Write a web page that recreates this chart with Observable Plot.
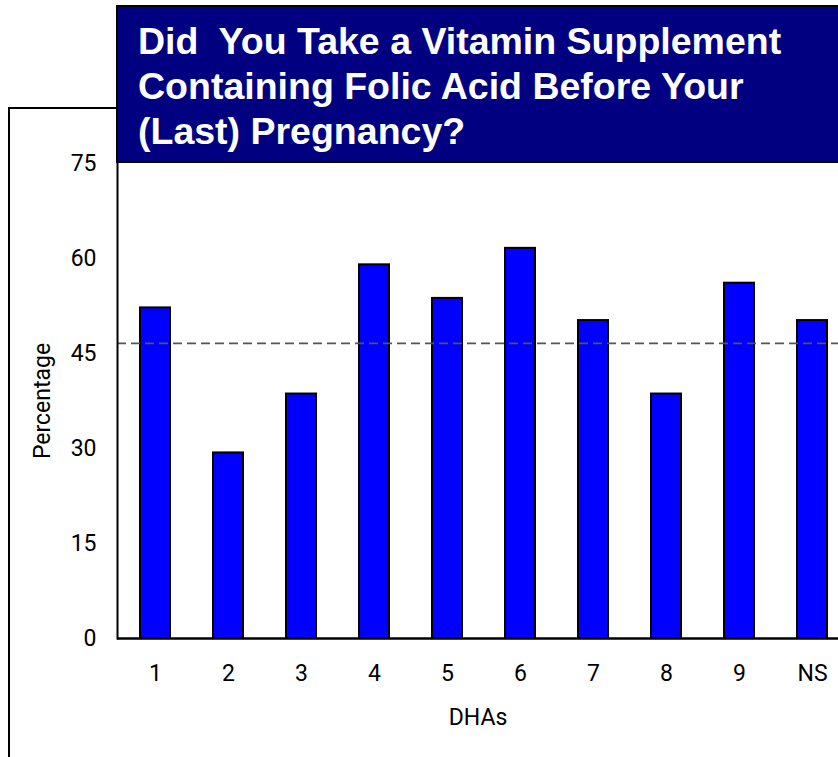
<!DOCTYPE html>
<html>
<head>
<meta charset="utf-8">
<script src="https://cdn.jsdelivr.net/npm/d3@7"></script>
<script src="https://cdn.jsdelivr.net/npm/@observablehq/plot@0.6"></script>
<style>
  html, body { margin: 0; padding: 0; background: white; overflow: hidden; }
  #wrap { position: relative; width: 838px; height: 757px; overflow: hidden; }
  #frameLeft { position: absolute; left: 8px; top: 107px; width: 2px; height: 660px; background: black; }
  #frameTop { position: absolute; left: 8px; top: 107px; width: 110px; height: 2px; background: black; }
  #title {
    position: absolute; left: 116px; top: 5px; width: 740px; height: 154px;
    background: #000080; border: 2px solid black; box-sizing: content-box;
    color: white; font-family: "Liberation Sans", Arial, sans-serif; font-weight: bold;
    font-size: 37.5px; line-height: 45px; white-space: pre; padding: 0;
  }
  #title div { position: absolute; left: 20px; }
  #chart { position: absolute; left: 0; top: 0; }
</style>
</head>
<body>
<div id="wrap">
  <div id="chart"></div>
  <div id="frameLeft"></div>
  <div id="frameTop"></div>
  <div id="title"></div>
</div>
<script>
const titleLines = ["Did  You Take a Vitamin Supplement", "Containing Folic Acid Before Your", "(Last) Pregnancy?"];
const categories = ["1", "2", "3", "4", "5", "6", "7", "8", "9", "NS"];
const percentages = [52.2, 29.3, 38.6, 59.0, 53.7, 61.6, 50.2, 38.6, 56.1, 50.2];
const average = 46.6;
const yTicks = [0, 15, 30, 45, 60, 75];
const xLabel = "DHAs";
const yLabel = "Percentage";

const data = categories.map((c, i) => ({dha: c, pct: percentages[i]}));

const titleEl = document.getElementById("title");
titleLines.forEach((t, i) => {
  const d = document.createElement("div");
  d.textContent = t;
  d.style.top = (12 + i * 45) + "px";
  titleEl.appendChild(d);
});

const chart = Plot.plot({
  width: 838,
  height: 757,
  marginLeft: 117,
  marginRight: 0,
  marginTop: 163,
  marginBottom: 119,
  style: {fontFamily: "Roboto, sans-serif", fontSize: "23px", color: "black", background: "white"},
  x: {
    domain: categories,
    range: [117, 849.2],
    paddingInner: 0.59,
    paddingOuter: 0.295,
    tickSize: 0,
    tickPadding: 26,
    label: xLabel,
    labelAnchor: "center",
    labelArrow: "none",
    labelOffset: 86
  },
  y: {
    domain: [0, 75],
    ticks: yTicks,
    tickSize: 0,
    tickPadding: 21,
    label: yLabel,
    labelAnchor: "center",
    labelArrow: "none",
    labelOffset: 84
  },
  marks: [
    Plot.barY(data, {x: "dha", y: "pct", fill: "#0000ff", stroke: "black", strokeWidth: 2}),
    Plot.ruleY([average], {stroke: "#555", strokeWidth: 1.8, strokeDasharray: "9,5"}),
    Plot.ruleY([0], {stroke: "black", strokeWidth: 2.5}),
    Plot.frame({anchor: "left", stroke: "black", strokeWidth: 2})
  ]
});
document.getElementById("chart").appendChild(chart);
</script>
</body>
</html>
